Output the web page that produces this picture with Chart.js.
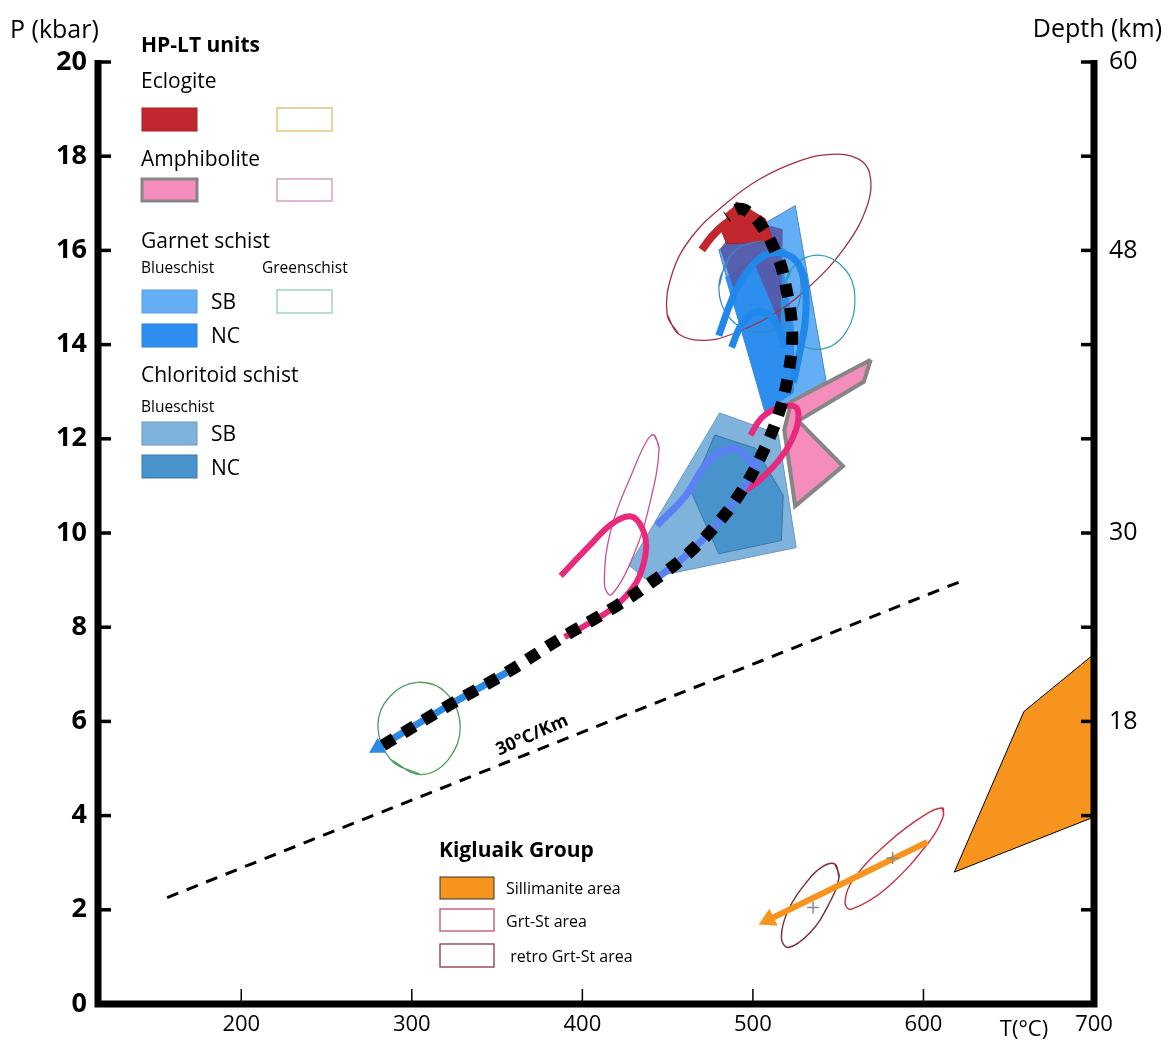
<!DOCTYPE html>
<html>
<head>
<meta charset="utf-8">
<script src="https://cdn.jsdelivr.net/npm/chart.js@4.4.1/dist/chart.umd.min.js"></script>
<style>
  body { margin: 0; background: #fff; }
  canvas { display: block; }
</style>
</head>
<body>
<canvas id="ptChart" width="1167" height="1042"></canvas>
<script>
// axis ticks
const tempTicks = [200, 300, 400, 500, 600, 700];
const pressureTicks = [0, 2, 4, 6, 8, 10, 12, 14, 16, 18, 20];
const depthTicks = [6, 12, 18, 24, 30, 36, 42, 48, 54, 60];
const depthLabels = [18, 30, 48, 60];

// [T (°C), P (kbar)]
const geotherm = [[156.5, 2.26], [624.5, 9.01]];

// Kigluaik group
const sillimanite = [[618.1, 2.80], [658.9, 6.21], [700, 7.43], [700, 3.97], [618.1, 2.80]];
const grtSt = [[611.1, 4.16], [611.7, 3.99], [604.1, 3.48], [579.0, 2.48], [557.5, 2.01], [554.0, 2.16],
  [558.6, 2.63], [579.0, 3.42], [600.6, 4.01], [611.1, 4.16]];
const retroGrtSt = [[548.1, 2.97], [550.5, 2.69], [544.1, 2.09], [533.6, 1.52], [520.7, 1.20], [516.7, 1.41],
  [520.7, 1.99], [532.4, 2.63], [541.1, 2.92], [548.1, 2.97]];
const kigluaikPath = [[602.3, 3.44], [509.2, 1.79]];
const kigluaikHead = [[509.2, 1.79]];
const kigluaikCentres = [[581.9, 3.10], [535.3, 2.05]];

// HP-LT units, outlines
const greenschist = [[305.1, 4.87], [287.6, 5.19], [280.1, 5.91], [287.1, 6.53], [303.4, 6.83], [320.3, 6.60],
  [328.4, 5.89], [321.4, 5.19], [305.1, 4.87]];
const amphOutline = [[442.1, 12.08], [445.0, 11.80], [440.3, 10.74], [430.4, 9.56], [417.0, 8.69], [412.9, 8.92],
  [417.0, 10.10], [430.4, 11.38], [438.0, 11.97], [442.1, 12.08]];
const eclOutline = [[449.7, 14.64], [456.6, 14.22], [472.4, 14.09], [487.5, 14.22], [509.1, 14.58], [530.7, 15.15],
  [554.0, 16.07], [567.4, 16.99], [568.5, 17.63], [561.5, 17.95], [545.8, 18.04], [526.6, 17.89], [503.3, 17.50],
  [484.0, 16.99], [464.2, 16.29], [452.6, 15.50], [449.7, 14.64]];
const grtGreenA = [[516.7, 14.90], [522.5, 15.60], [538.2, 15.90], [554.0, 15.60], [559.8, 15.01], [554.5, 14.26],
  [539.4, 13.90], [523.7, 14.15], [516.7, 14.90]];
const grtGreenB = [[480.0, 15.22], [486.9, 15.90], [504.4, 16.18], [521.9, 15.90], [528.3, 15.22], [521.9, 14.54],
  [504.4, 14.26], [486.9, 14.54], [480.0, 15.22]];

// HP-LT units, filled fields
const chlSB = [[480.5, 12.55], [514.9, 12.10], [525.4, 9.69], [436.8, 9.03], [427.5, 9.31], [480.5, 12.55]];
const chlNC = [[477.6, 12.08], [501.5, 11.80], [517.8, 10.80], [516.7, 9.84], [480.0, 9.56], [463.6, 10.89], [477.6, 12.08]];
const grtSB = [[524.8, 16.95], [542.9, 13.23], [520.7, 12.76], [506.8, 12.59], [480.0, 16.01], [524.8, 16.95]];
const grtNC = [[484.0, 15.43], [500.4, 15.82], [517.8, 15.54], [523.7, 14.37], [523.7, 12.98], [507.3, 12.59], [484.0, 15.43]];
const overlap = [[481.1, 16.03], [494.5, 16.67], [517.2, 16.44], [516.1, 14.45], [501.5, 15.69], [488.7, 15.22], [481.1, 16.03]];
const eclogite = [[490.4, 17.03], [507.3, 16.67], [512.0, 16.18], [484.6, 16.14], [481.1, 16.46], [490.4, 17.03]];
const amphibolite = [[569.1, 13.68], [565.0, 13.21], [526.6, 12.38], [552.8, 11.42], [524.8, 10.57], [518.4, 12.19],
  [522.5, 12.79], [569.1, 13.68]];

// individual P-T loops
const amphLoopLow = [[387.3, 9.09], [404.2, 9.73], [417.6, 10.20], [428.7, 10.35], [435.1, 10.10], [437.4, 9.67],
  [433.3, 9.07], [425.8, 8.67], [415.9, 8.35], [404.2, 8.09], [389.6, 7.79]];
const amphLoopHigh = [[498.6, 12.08], [505.0, 12.44], [514.9, 12.66], [524.8, 12.68], [526.6, 12.40], [522.5, 11.95],
  [514.9, 11.53], [503.3, 11.10], [495.7, 10.91]];
const chlLoop = [[443.8, 10.16], [460.7, 10.80], [474.1, 11.53], [487.5, 11.80], [495.7, 11.65], [499.8, 11.44]];
const grtLoopOuter = [[480.0, 14.19], [487.5, 14.94], [495.7, 15.50], [507.3, 15.90], [519.0, 15.92], [526.6, 15.71],
  [530.7, 15.22], [530.7, 14.51], [527.2, 13.79], [523.7, 13.19]];
const grtLoopInner = [[487.5, 13.94], [493.4, 14.43], [501.5, 14.69], [509.1, 14.64], [514.9, 14.37], [518.4, 13.94]];
const eclLoop = [[470.0, 16.01], [475.9, 16.29], [482.3, 16.52], [489.9, 16.71]];

// overall P-T path and its coloured stretches
const ptPath = [[283.0, 5.49], [322.6, 6.36], [355.8, 7.04], [386.7, 7.75], [419.9, 8.45], [439.2, 8.92], [460.7, 9.52],
  [478.2, 10.16], [493.4, 10.89], [505.0, 11.65], [514.9, 12.51], [520.7, 13.36], [523.1, 14.15], [521.9, 14.75],
  [519.6, 15.18], [516.7, 15.65], [512.0, 16.07], [506.2, 16.46], [498.6, 16.78], [491.6, 16.88], [484.6, 16.71]];
const ptBlue = [[280.0, 5.44], [322.6, 6.36], [355.8, 7.04]];
const ptViolet = [[439.2, 8.92], [460.7, 9.52], [478.2, 10.16], [493.4, 10.89], [505.0, 11.65]];
const ptRed = [[512.0, 16.07], [506.2, 16.46], [498.6, 16.78], [491.6, 16.88], [484.6, 16.71]];
const ptHead = [[280.0, 5.44]];
const geothermLabel = [370.4, 5.72];

const pts = a => a.map(([x, y]) => ({x, y}));

function line(data, color, width, extra) {
    return Object.assign({
        data: pts(data),
        borderColor: color,
        borderWidth: width,
        pointRadius: 0,
        fill: false,
        tension: 0
    }, extra);
}

function shape(data, fillColor, edgeColor, width) {
    return line(data, edgeColor, width, {fill: 'shape', backgroundColor: fillColor, borderJoinStyle: 'miter'});
}

// smooth open curve
function loop(data, color, width, extra) {
    return line(data, color, width, Object.assign({tension: 0.4}, extra));
}

// smooth closed outline: run on past the start so the join has no kink
function ring(data, color, width) {
    return line(data.concat([data[1]]), color, width, {tension: 0.4});
}

function head(data, color, radius, angle) {
    return line(data, color, 0, {
        showLine: false,
        pointRadius: radius,
        pointStyle: 'triangle',
        rotation: angle,
        pointBackgroundColor: color,
        pointBorderWidth: 0
    });
}

// back to front
const layers = [
    line(geotherm, '#000', 3, {borderDash: [12, 9]}),
    shape(sillimanite, '#f7941d', '#000', 1),
    ring(grtSt, '#c8303e', 1.4),
    ring(retroGrtSt, '#7a2832', 1.4),
    line(kigluaikPath, '#f7941d', 6),
    head(kigluaikHead, '#f7941d', 11, 244),
    line(kigluaikCentres, '#888', 0, {showLine: false, pointRadius: 6, pointStyle: 'cross', pointBorderColor: '#8a8a8a', pointBorderWidth: 1.5}),
    ring(greenschist, '#4d9c5c', 1.3),
    shape(chlSB, '#80b3dc', '#6a98c0', 1),
    shape(chlNC, '#4893cc', '#3a78a8', 1),
    ring(amphOutline, '#c9508f', 1.3),
    shape(grtSB, '#64aef6', '#4a86c4', 1),
    shape(grtNC, '#2e8ef0', '#2e8ef0', 1),
    shape(overlap, 'rgba(88,88,168,0.92)', '#5a5aaa', 1),
    shape(eclogite, '#c1272d', '#a52025', 1),
    shape(amphibolite, '#f48cbc', '#868686', 4),
    ring(eclOutline, '#a3323e', 1.3),
    ring(grtGreenA, '#2aa0b0', 1.2),
    ring(grtGreenB, '#3a86cc', 1.2),
    loop(chlLoop, '#5a80f4', 7),
    loop(amphLoopLow, '#e9297d', 6),
    loop(amphLoopHigh, '#e9297d', 6),
    loop(grtLoopOuter, '#1f88e8', 7),
    loop(grtLoopInner, '#1f88e8', 7),
    loop(eclLoop, '#c1272d', 8),
    loop(ptBlue, '#2a8ae6', 7),
    loop(ptViolet, '#5a80f4', 7),
    loop(ptRed, '#c1272d', 7),
    loop(ptPath, '#000', 12, {borderDash: [13, 11], borderCapStyle: 'butt'}),
    head(ptHead, '#2a8ae6', 10, 240)
];
layers.forEach((ds, i) => { ds.order = layers.length - i; });

// axes with inward ticks, legends and labels
const frame = {
    id: 'frame',
    afterDraw(chart) {
        const {ctx, chartArea: {left, right, top, bottom}, scales: {x, y, y2}} = chart;
        ctx.save();
        ctx.fillStyle = '#000';
        ctx.strokeStyle = '#000';

        ctx.lineWidth = 7;
        ctx.lineJoin = 'miter';
        ctx.beginPath();
        ctx.moveTo(left, top - 2);
        ctx.lineTo(left, bottom);
        ctx.lineTo(right, bottom);
        ctx.lineTo(right, top - 2);
        ctx.stroke();

        ctx.lineWidth = 3.5;
        pressureTicks.slice(1).forEach(v => {
            const py = y.getPixelForValue(v);
            ctx.beginPath();
            ctx.moveTo(left, py);
            ctx.lineTo(left + 13, py);
            ctx.stroke();
        });
        depthTicks.forEach(v => {
            const py = y2.getPixelForValue(v);
            ctx.beginPath();
            ctx.moveTo(right, py);
            ctx.lineTo(right - 13, py);
            ctx.stroke();
        });
        ctx.lineWidth = 1.5;
        tempTicks.slice(0, -1).forEach(v => {
            const px = x.getPixelForValue(v);
            ctx.beginPath();
            ctx.moveTo(px, bottom);
            ctx.lineTo(px, bottom - 15);
            ctx.stroke();
        });

        const font = (size, bold) => (bold ? 'bold ' : '') + size + 'px "Open Sans", "Noto Sans", sans-serif';
        const text = (str, tx, ty, size, bold, align) => {
            ctx.font = font(size, bold);
            ctx.textAlign = align || 'left';
            ctx.textBaseline = 'alphabetic';
            ctx.fillText(str, tx, ty);
        };
        const box = (bx, by, w, h, fill, stroke, lw) => {
            if (fill) {
                ctx.fillStyle = fill;
                ctx.fillRect(bx, by, w, h);
            }
            if (stroke) {
                ctx.strokeStyle = stroke;
                ctx.lineWidth = lw;
                ctx.strokeRect(bx, by, w, h);
            }
            ctx.fillStyle = '#000';
        };

        // axis titles
        text('P (kbar)', 10, 38, 25);
        text('Depth (km)', 1162, 37, 25, false, 'right');
        text('T(°C)', 1024, 1036, 22, false, 'center');

        // HP-LT legend
        text('HP-LT units', 141, 52, 21, true);
        text('Eclogite', 141, 88, 21);
        box(142, 108, 55, 23, '#c1272d', '#a52025', 1);
        box(277, 108, 55, 23, null, '#e6b86a', 1.3);
        text('Amphibolite', 141, 166, 21);
        box(142, 179, 55, 22, '#f48cbc', '#868686', 3);
        box(277, 179, 55, 22, null, '#d590b8', 1.3);
        text('Garnet schist', 141, 248, 21);
        text('Blueschist', 141, 273, 15.5);
        text('Greenschist', 262, 273, 15.5);
        box(142, 290, 55, 23, '#64aef6', '#5b9ad8', 1);
        text('SB', 211, 309, 21);
        box(277, 290, 55, 23, null, '#8fcfae', 1.3);
        box(142, 324, 55, 23, '#2e8ef0', '#2a7fd6', 1);
        text('NC', 211, 343, 21);
        text('Chloritoid schist', 141, 382, 21);
        text('Blueschist', 141, 412, 15.5);
        box(142, 422, 55, 23, '#80b3dc', '#6a98c0', 1);
        text('SB', 211, 441, 21);
        box(142, 455, 55, 23, '#4893cc', '#3a78a8', 1);
        text('NC', 211, 475, 21);

        // Kigluaik legend
        text('Kigluaik Group', 439, 857, 21, true);
        box(440, 877, 54, 22, '#f7941d', '#333', 1);
        text('Sillimanite area', 506, 894, 16);
        box(440, 909, 54, 22, null, '#c0506a', 1.3);
        text('Grt-St area', 506, 927, 16);
        box(440, 944, 54, 23, null, '#8a3838', 1.3);
        text(' retro Grt-St area', 506, 962, 16);

        // geotherm label
        ctx.save();
        ctx.translate(x.getPixelForValue(geothermLabel[0]), y.getPixelForValue(geothermLabel[1]));
        ctx.rotate(-24 * Math.PI / 180);
        text('30°C/Km', 0, 6, 18, true, 'center');
        ctx.restore();

        ctx.restore();
    }
};

new Chart(document.getElementById('ptChart'), {
    type: 'line',
    data: {datasets: layers},
    options: {
        responsive: false,
        animation: false,
        events: [],
        layout: {padding: {top: 62, left: 0, right: 0, bottom: 0}},
        plugins: {legend: {display: false}, tooltip: {enabled: false}},
        scales: {
            x: {
                type: 'linear',
                min: 116,
                max: 700,
                grid: {display: false, drawTicks: false},
                border: {display: false},
                afterBuildTicks: s => { s.ticks = tempTicks.map(v => ({value: v})); },
                afterFit: s => { s.height = 38; },
                ticks: {color: '#000', padding: 8, maxRotation: 0, autoSkip: false,
                    font: {size: 22, family: '"Open Sans", sans-serif'}}
            },
            y: {
                position: 'left',
                min: 0,
                max: 20,
                grid: {display: false, drawTicks: false},
                border: {display: false},
                afterBuildTicks: s => { s.ticks = pressureTicks.map(v => ({value: v})); },
                afterFit: s => { s.width = 98; },
                ticks: {color: '#000', padding: 11,
                    font: {size: 27, weight: 'bold', family: '"Open Sans", sans-serif'}}
            },
            y2: {
                position: 'right',
                min: 0,
                max: 60,
                grid: {display: false, drawTicks: false},
                border: {display: false},
                afterBuildTicks: s => { s.ticks = depthLabels.map(v => ({value: v})); },
                afterFit: s => { s.width = 73; },
                ticks: {color: '#000', padding: 15,
                    font: {size: 25, family: '"Open Sans", sans-serif'}}
            }
        }
    },
    plugins: [frame]
});
</script>
</body>
</html>
